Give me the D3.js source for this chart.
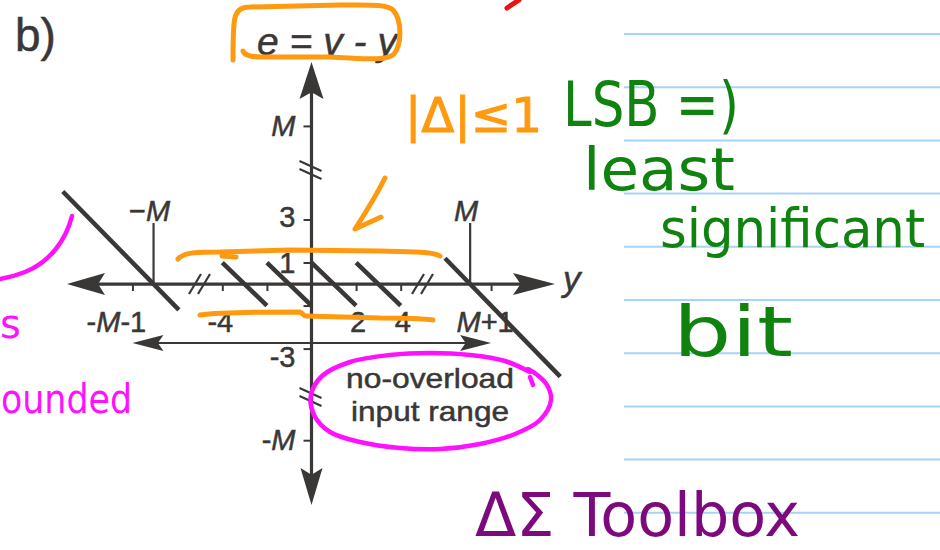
<!DOCTYPE html>
<html><head><meta charset="utf-8">
<script src="https://cdn.jsdelivr.net/npm/d3@7"></script>
<style>
html,body{margin:0;padding:0;background:#fff;}
svg{display:block;}
</style></head><body>
<svg id="chart" width="940" height="550"></svg>
<script>
// Symbolic full-scale level M, given a numeric stand-in so the broken axes can place it.
const M = 16;

// Quantizer output levels inside the no-overload range (step of 2, error within ±1).
const levels = [-3, -1, 1, 3];
// Overload branches: the output stays at ±M while the error e = v - y keeps growing.
const overload = [
  { v: -M, from: -M - 4.3, to: -M + 1.2 },
  { v: M, from: M - 1.2, to: M + 4.3 }
];
// Input-axis ticks and their labels.
const xTickValues = [-M - 1, -4, -2, 2, 4, M + 1];
const xTickLabels = ["-M-1", "-4", "", "2", "4", "M+1"];
// Error-axis ticks and their labels.
const yTickValues = [M, 3, 1, -1, -3, -M];
const yTickLabels = ["M", "3", "1", "", "-3", "-M"];
// Full-scale markers on the input axis.
const fullScale = [-M, M];
const fullScaleLabels = ["−M", "M"];
// No-overload input range.
const inputRange = [-M - 1, M + 1];

const ink = "#3a3737";
const svg = d3.select("#chart");
svg.append("rect").attr("width", 940).attr("height", 550).attr("fill", "#fff");

// Broken scales: the stretch between the small levels and ±M is cut out.
const x = d3.scaleLinear()
  .domain([-M - 4.1, -M + 2.2, -5, 5, M - 2.25, M + 4.05])
  .range([67, 200, 200, 423, 423, 555]);
const e = d3.scaleLinear()
  .domain([-M - 3, -M + 2, -5.25, 5.3, M - 2, M + 2.9])
  .range([505, 397, 397, 170, 170, 62]);

// Ruled notebook lines on the right.
svg.append("g").selectAll("line").data(d3.range(10)).join("line")
  .attr("x1", 624).attr("x2", 940)
  .attr("y1", i => 34 + i * 53.2).attr("y2", i => 34 + i * 53.2)
  .attr("stroke", "#a9d2f8").attr("stroke-width", 2);

const fig = svg.append("g");

function richLabel(sel, label) {
  label.split("M").forEach((p, i) => {
    if (i > 0) sel.append("tspan").attr("font-style", "italic").text("M");
    if (p) sel.append("tspan").text(p);
  });
}
const font = "'Liberation Sans', Arial, sans-serif";
function inkText(sel) {
  return sel.attr("font-family", font).attr("fill", ink)
    .attr("stroke", ink).attr("stroke-width", 0.5);
}

// "b)" panel tag and axis title
inkText(fig.append("text").attr("x", 15).attr("y", 51).attr("font-size", 46)).text("b)");
inkText(fig.append("text").attr("x", 327).attr("y", 55).attr("text-anchor", "middle")
  .attr("font-size", 39).attr("font-style", "italic")).text("e = v - y");

// axis lines
const x0 = x(0), y0 = e(0);
fig.append("line").attr("x1", x(-M - 4.1) + 10).attr("x2", x(M + 4.05) - 10)
  .attr("y1", y0).attr("y2", y0).attr("stroke", ink).attr("stroke-width", 3.2);
fig.append("line").attr("y1", e(M + 2.9) + 10).attr("y2", e(-M - 3) - 10)
  .attr("x1", x0).attr("x2", x0).attr("stroke", ink).attr("stroke-width", 3.2);

function arrow(tx, ty, dir, len, half) {
  // dir: unit vector pointing toward the tip
  const [dx, dy] = dir, bx = tx - dx * len, by = ty - dy * len;
  const px = -dy, py = dx;
  const nx = tx - dx * len * 0.82, ny = ty - dy * len * 0.82;
  return `M${tx},${ty}L${bx + px * half},${by + py * half}L${nx},${ny}L${bx - px * half},${by - py * half}Z`;
}
fig.append("path").attr("d", arrow(x(-M - 4.1), y0, [-1, 0], 38, 11)).attr("fill", ink);
fig.append("path").attr("d", arrow(x(M + 4.05), y0, [1, 0], 42, 11)).attr("fill", ink);
fig.append("path").attr("d", arrow(x0, e(M + 2.9), [0, -1], 37, 12)).attr("fill", ink);
fig.append("path").attr("d", arrow(x0, e(-M - 3), [0, 1], 37, 11)).attr("fill", ink);

// axis ticks
const gx = fig.append("g").attr("transform", `translate(0,${y0})`)
  .call(d3.axisBottom(x).tickValues(xTickValues).tickSize(7).tickFormat(""));
gx.select(".domain").remove();
gx.selectAll("line").attr("stroke", ink).attr("stroke-width", 2);
const gy = fig.append("g").attr("transform", `translate(${x0},0)`)
  .call(d3.axisLeft(e).tickValues(yTickValues).tickSize(8).tickFormat(""));
gy.select(".domain").remove();
gy.selectAll("line").attr("stroke", ink).attr("stroke-width", 2);

// break marks
function hBreak(cx) {
  [-5, 4].forEach(o => fig.append("line")
    .attr("x1", cx + o - 6).attr("y1", y0 + 10).attr("x2", cx + o + 6).attr("y2", y0 - 10)
    .attr("stroke", ink).attr("stroke-width", 2.2));
}
function vBreak(cy) {
  [-4, 4].forEach(o => fig.append("line")
    .attr("x1", x0 - 12).attr("y1", cy + o - 5).attr("x2", x0 + 10).attr("y2", cy + o + 5)
    .attr("stroke", ink).attr("stroke-width", 2.2));
}
hBreak(x(-5)); hBreak(x(5));
vBreak(e(5.3)); vBreak(e(-5.25));

// tick labels
const xNudge = { "-M-1": -16, "-4": -2, "2": 2, "4": 2, "M+1": -6 };
xTickValues.forEach((v, i) => {
  const lab = xTickLabels[i];
  if (!lab) return;
  const t = inkText(fig.append("text").attr("x", x(v) + (xNudge[lab] || 0)).attr("y", y0 + 48)
    .attr("text-anchor", "middle").attr("font-size", 29));
  richLabel(t, lab);
});
const yNudge = { "3": -2, "-3": 8 };
yTickValues.forEach((v, i) => {
  const lab = yTickLabels[i];
  if (!lab) return;
  const t = inkText(fig.append("text").attr("x", x0 - 16).attr("y", e(v) + 10 + (yNudge[lab] || 0))
    .attr("text-anchor", "end").attr("font-size", 29));
  richLabel(t, lab);
});
inkText(fig.append("text").attr("x", x(M + 4.05) + 8).attr("y", y0 + 7)
  .attr("font-size", 35).attr("font-style", "italic")).text("y");

// full-scale markers
fullScale.forEach((v, i) => {
  fig.append("line").attr("x1", x(v)).attr("x2", x(v)).attr("y1", y0).attr("y2", y0 - 61)
    .attr("stroke", ink).attr("stroke-width", 2.2);
  const t = inkText(fig.append("text").attr("x", x(v) - 4).attr("y", y0 - 63)
    .attr("text-anchor", "middle").attr("font-size", 29));
  richLabel(t, fullScaleLabels[i]);
});

// no-overload input range arrow
const ry = 343;
fig.append("line").attr("x1", x(inputRange[0]) + 10).attr("x2", x(inputRange[1]) - 10)
  .attr("y1", ry).attr("y2", ry).attr("stroke", ink).attr("stroke-width", 2.2);
fig.append("path").attr("d", arrow(x(inputRange[0]), ry, [-1, 0], 31, 8)).attr("fill", ink);
fig.append("path").attr("d", arrow(x(inputRange[1]), ry, [1, 0], 31, 8)).attr("fill", ink);
inkText(fig.append("text").attr("x", 430).attr("y", 388).attr("text-anchor", "middle")
  .attr("font-size", 28).attr("textLength", 168).attr("lengthAdjust", "spacingAndGlyphs"))
  .text("no-overload");
inkText(fig.append("text").attr("x", 430).attr("y", 421).attr("text-anchor", "middle")
  .attr("font-size", 28).attr("textLength", 158).attr("lengthAdjust", "spacingAndGlyphs"))
  .text("input range");

// quantization error: e = v - y, one slope -1 segment per output level
const seg = d3.line().x(d => x(d[0])).y(d => e(d[1]));
fig.append("g").selectAll("path").data(levels).join("path")
  .attr("d", v => seg([[v - 1, v - (v - 1)], [v + 1, v - (v + 1)]]))
  .attr("stroke", ink).attr("stroke-width", 4.5).attr("fill", "none");
fig.append("g").selectAll("path").data(overload).join("path")
  .attr("d", o => seg([[o.from, o.v - o.from], [o.to, o.v - o.to]]))
  .attr("stroke", ink).attr("stroke-width", 4.5).attr("fill", "none");

// ---- pen annotations ----
const ann = svg.append("g").attr("fill", "none").attr("stroke-linecap", "round")
  .attr("stroke-linejoin", "round");
const orange = "#ff9a10", green = "#0f820f", magenta = "#ff10ff", purple = "#7d0a7d";
const hand = "'DejaVu Sans', sans-serif";

// orange box round the title
ann.append("path").attr("stroke", orange).attr("stroke-width", 5)
  .attr("d", "M243,51 C245,56 252,57 262,57 L330,57 C360,58 386,62 394,54 C402,44 402,20 393,10 C386,4 370,5 340,5 L250,7 C240,7 235,11 234,24 C233,36 233,50 233,60");
// orange bounds of the granular error
ann.append("path").attr("stroke", orange).attr("stroke-width", 5)
  .attr("d", "M178,259 C184,252 198,252 220,252 L290,250 L380,251 C410,252 432,251 440,256");
ann.append("path").attr("stroke", orange).attr("stroke-width", 5).attr("d", "M222,256 L236,257");
ann.append("path").attr("stroke", orange).attr("stroke-width", 5)
  .attr("d", "M200,315 C215,313 260,312 300,312 C303,313 303,316 306,316 L380,318 C405,318 425,319 433,320");
ann.append("path").attr("stroke", orange).attr("stroke-width", 5)
  .attr("d", "M385,178 C376,196 366,212 355,229 L381,217");
svg.append("text").attr("x", 405).attr("y", 132).attr("font-family", hand)
  .attr("font-size", 48).attr("fill", orange).attr("stroke", orange).attr("stroke-width", 1)
  .attr("textLength", 137).attr("lengthAdjust", "spacingAndGlyphs").text("|Δ|≤1");

// magenta notes
ann.append("path").attr("stroke", magenta).attr("stroke-width", 4.5)
  .attr("d", "M72,216 C66,240 50,262 25,272 C15,276 6,278 0,279");
const ellipsePts = [[530,372],[505,361],[470,355],[430,353],[390,355],[350,362],[322,376],[311,395],[314,415],[330,432],[360,442],[400,448],[440,449],[480,444],[515,434],[540,420],[551,400],[547,385],[536,374],[528,369]];
ann.append("path").attr("stroke", magenta).attr("stroke-width", 4.5)
  .attr("d", d3.line().curve(d3.curveCatmullRom)(ellipsePts));
ann.append("path").attr("stroke", magenta).attr("stroke-width", 4.5).attr("d", "M530,377 L533,385");
svg.append("text").attr("x", 0).attr("y", 338).attr("font-family", hand)
  .attr("font-size", 40).attr("fill", magenta).text("s");
svg.append("text").attr("x", 1).attr("y", 413).attr("font-family", hand)
  .attr("font-size", 40).attr("fill", magenta)
  .attr("textLength", 131).attr("lengthAdjust", "spacingAndGlyphs").text("ounded");

// green notes
const greenNotes = [
  { t: "LSB =)", x: 563, y: 126, s: 62, w: 176 },
  { t: "least", x: 583, y: 190, s: 58, w: 152 },
  { t: "significant", x: 660, y: 247, s: 53, w: 265 },
  { t: "bit", x: 673, y: 356, s: 70, w: 120 }
];
greenNotes.forEach(n => svg.append("text").attr("x", n.x).attr("y", n.y)
  .attr("font-family", hand).attr("font-size", n.s).attr("fill", green)
  .attr("textLength", n.w).attr("lengthAdjust", "spacingAndGlyphs").text(n.t));

// purple note
svg.append("text").attr("x", 475).attr("y", 536).attr("font-family", hand)
  .attr("font-size", 60).attr("fill", purple)
  .attr("textLength", 325).attr("lengthAdjust", "spacingAndGlyphs").text("ΔΣ Toolbox");

// red pen mark at the top edge
ann.append("path").attr("stroke", "#f01010").attr("stroke-width", 5).attr("d", "M507,8 L519,0");
</script>
</body></html>
